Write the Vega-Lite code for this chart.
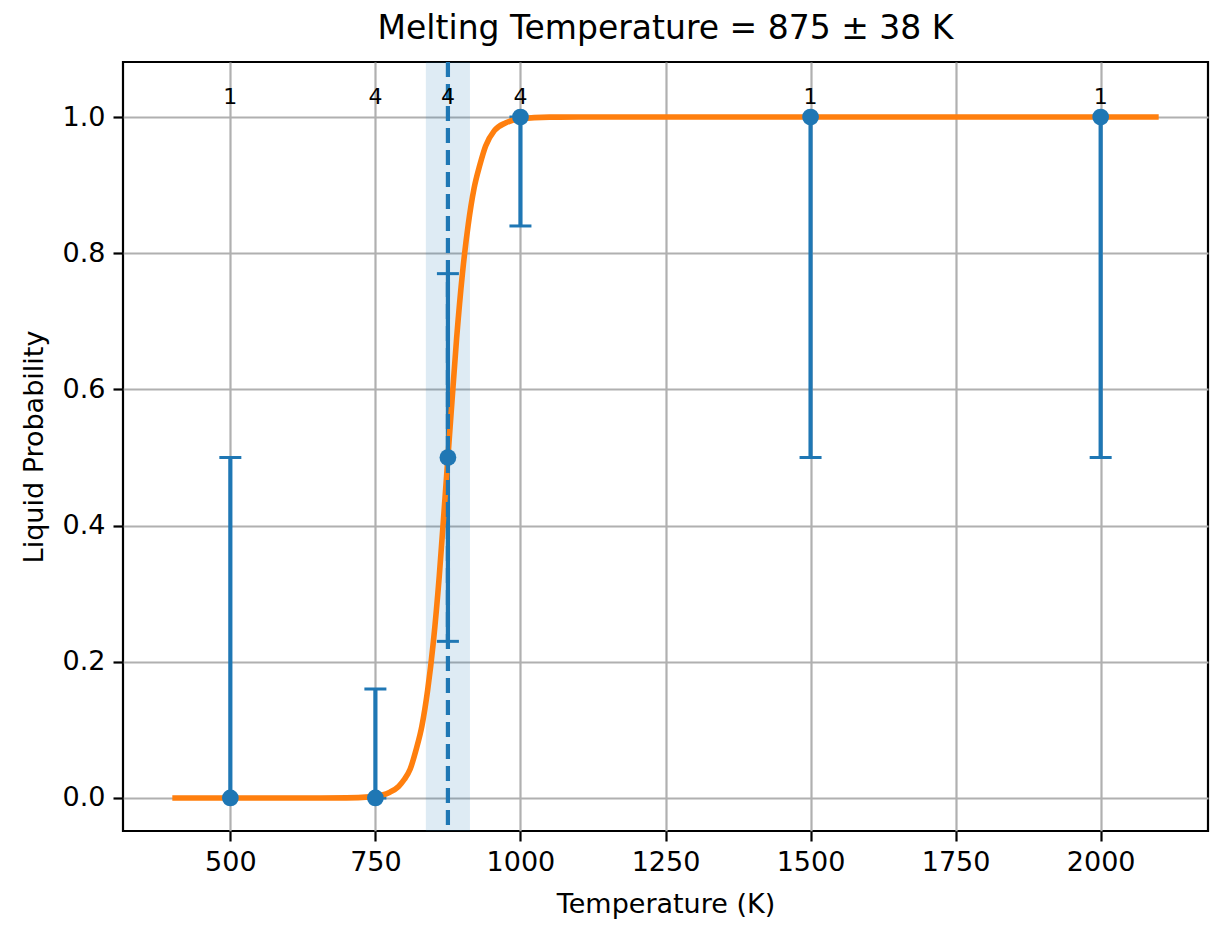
{
  "$schema": "https://vega.github.io/schema/vega-lite/v6.json",
  "width": 1085,
  "height": 769,
  "autosize": {"type": "none"},
  "padding": {"left": 123, "top": 62, "right": 19, "bottom": 108},
  "background": "white",
  "config": {
    "font": "DejaVu Sans",
    "view": {"stroke": "black", "strokeWidth": 2.2},
    "axis": {
      "labelFont": "DejaVu Sans",
      "labelFontSize": 27,
      "labelColor": "black",
      "titleFont": "DejaVu Sans",
      "titleFontSize": 27,
      "titleFontWeight": "normal",
      "titleColor": "black",
      "domain": false,
      "tickColor": "black",
      "tickSize": 10,
      "tickWidth": 2.2,
      "labelPadding": 8,
      "gridColor": "#b0b0b0",
      "gridWidth": 2.2,
      "gridOpacity": 1
    }
  },
  "title": {
    "text": "Melting Temperature = 875 ± 38 K",
    "font": "DejaVu Sans",
    "fontSize": 33,
    "fontWeight": "normal",
    "color": "black",
    "offset": 14
  },
  "datasets": {
    "points": [
      {"T": 500, "p": 0.0, "lo": 0.0, "hi": 0.5, "n": 1},
      {"T": 750, "p": 0.0, "lo": 0.0, "hi": 0.16, "n": 4},
      {"T": 875, "p": 0.5, "lo": 0.23, "hi": 0.77, "n": 4},
      {"T": 1000, "p": 1.0, "lo": 0.84, "hi": 1.0, "n": 4},
      {"T": 1500, "p": 1.0, "lo": 0.5, "hi": 1.0, "n": 1},
      {"T": 2000, "p": 1.0, "lo": 0.5, "hi": 1.0, "n": 1}
    ],
    "curve": [
      {"T": 400, "p": 0.0},
      {"T": 600, "p": 0.0},
      {"T": 700, "p": 0.0002},
      {"T": 740, "p": 0.0016},
      {"T": 760, "p": 0.0041},
      {"T": 775, "p": 0.0085},
      {"T": 790, "p": 0.0170},
      {"T": 800, "p": 0.0274},
      {"T": 810, "p": 0.0425},
      {"T": 820, "p": 0.0705},
      {"T": 830, "p": 0.1050},
      {"T": 840, "p": 0.1580},
      {"T": 850, "p": 0.2300},
      {"T": 860, "p": 0.3250},
      {"T": 868, "p": 0.4170},
      {"T": 875, "p": 0.5},
      {"T": 882, "p": 0.5830},
      {"T": 890, "p": 0.6750},
      {"T": 900, "p": 0.7700},
      {"T": 910, "p": 0.8420},
      {"T": 920, "p": 0.8950},
      {"T": 930, "p": 0.9295},
      {"T": 940, "p": 0.9575},
      {"T": 955, "p": 0.9800},
      {"T": 975, "p": 0.9915},
      {"T": 1000, "p": 0.9974},
      {"T": 1050, "p": 0.9998},
      {"T": 1100, "p": 1.0},
      {"T": 2100, "p": 1.0}
    ],
    "band": [{"Tm": 875, "lo": 837, "hi": 913}]
  },
  "encoding": {
    "x": {
      "type": "quantitative",
      "scale": {"domain": [315, 2185], "nice": false, "zero": false},
      "axis": {"values": [500, 750, 1000, 1250, 1500, 1750, 2000], "format": "d", "title": "Temperature (K)", "titlePadding": 16}
    },
    "y": {
      "type": "quantitative",
      "scale": {"domain": [-0.0485, 1.0808], "nice": false, "zero": false},
      "axis": {"values": [0, 0.2, 0.4, 0.6, 0.8, 1.0], "format": ".1f", "title": "Liquid Probability", "titlePadding": 14}
    }
  },
  "layer": [
    {
      "data": {"name": "band"},
      "mark": {"type": "rect", "color": "#1f77b4", "opacity": 0.15},
      "encoding": {
        "x": {"field": "lo", "type": "quantitative"},
        "x2": {"field": "hi"}
      }
    },
    {
      "data": {"name": "points"},
      "mark": {"type": "rule", "color": "#1f77b4", "strokeWidth": 4.2},
      "encoding": {
        "x": {"field": "T", "type": "quantitative"},
        "y": {"field": "lo", "type": "quantitative"},
        "y2": {"field": "hi"}
      }
    },
    {
      "data": {"name": "points"},
      "transform": [{"fold": ["lo", "hi"], "as": ["end", "v"]}],
      "mark": {"type": "tick", "orient": "horizontal", "color": "#1f77b4", "size": 22, "thickness": 3, "opacity": 1},
      "encoding": {
        "x": {"field": "T", "type": "quantitative"},
        "y": {"field": "v", "type": "quantitative"}
      }
    },
    {
      "data": {"name": "curve"},
      "mark": {"type": "line", "color": "#ff7f0e", "strokeWidth": 5.6, "interpolate": "monotone"},
      "encoding": {
        "x": {"field": "T", "type": "quantitative"},
        "y": {"field": "p", "type": "quantitative"}
      }
    },
    {
      "data": {"name": "band"},
      "mark": {"type": "rule", "color": "#1f77b4", "strokeWidth": 4.2, "strokeDash": [15, 7]},
      "encoding": {
        "x": {"field": "Tm", "type": "quantitative"}
      }
    },
    {
      "data": {"name": "points"},
      "mark": {"type": "point", "shape": "circle", "filled": true, "color": "#1f77b4", "size": 280, "opacity": 1},
      "encoding": {
        "x": {"field": "T", "type": "quantitative"},
        "y": {"field": "p", "type": "quantitative"}
      }
    },
    {
      "data": {"name": "points"},
      "mark": {"type": "text", "font": "DejaVu Sans", "fontSize": 22, "color": "black", "baseline": "middle", "align": "center"},
      "encoding": {
        "x": {"field": "T", "type": "quantitative"},
        "y": {"datum": 1.03},
        "text": {"field": "n", "type": "quantitative"}
      }
    }
  ]
}
